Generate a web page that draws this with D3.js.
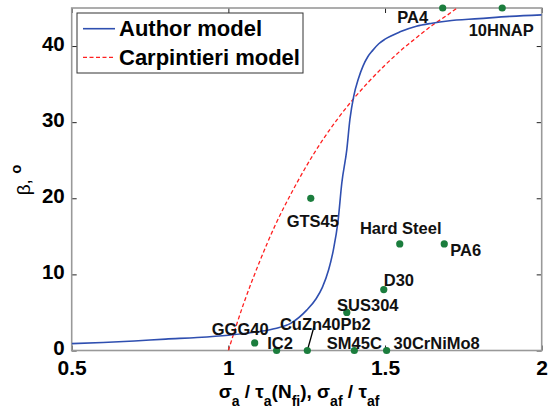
<!DOCTYPE html>
<html><head><meta charset="utf-8">
<script src="https://cdn.jsdelivr.net/npm/d3@7"></script>
<style>
html,body{margin:0;padding:0;background:#fff;}
svg{display:block;}
text{font-family:"Liberation Sans",Arial,Helvetica,sans-serif;}
</style></head>
<body>
<script>
// ---- data ----
const xTicks = [0.5, 1, 1.5, 2];
const xTickLabels = ["0.5", "1", "1.5", "2"];
const yTicks = [0, 10, 20, 30, 40];
const yTickLabels = ["0", "10", "20", "30", "40"];

const authorX = [0.5, 0.6, 0.7, 0.8, 0.9, 1.0, 1.1, 1.15, 1.2, 1.25, 1.28, 1.30, 1.32, 1.335, 1.35, 1.362, 1.378, 1.388, 1.40, 1.415, 1.43, 1.445, 1.46, 1.48, 1.50, 1.55, 1.60, 1.65, 1.70, 1.80, 1.90, 2.0];
const authorY = [0.9, 1.05, 1.25, 1.5, 1.7, 2.0, 2.5, 2.9, 3.6, 5.3, 6.8, 8.3, 10.6, 13.2, 17.0, 22.0, 26.4, 30.4, 33.4, 35.7, 37.4, 38.6, 39.4, 40.3, 40.9, 41.9, 42.6, 43.0, 43.3, 43.6, 43.9, 44.1];

const carpX = [1.0, 1.05, 1.1, 1.15, 1.2, 1.25, 1.3, 1.35, 1.4, 1.45, 1.5, 1.55, 1.6, 1.65, 1.7, 1.73];
const carpY = [0, 6.3, 11.7, 16.5, 20.6, 24.3, 27.6, 30.5, 33.1, 35.4, 37.5, 39.4, 41.1, 42.7, 44.1, 45.0];

const matNames = ["GTS45", "Hard Steel", "PA6", "D30", "SUS304", "GGG40", "CuZn40Pb2", "IC2", "SM45C", "30CrNiMo8", "PA4", "10HNAP"];
const matX = [1.263, 1.547, 1.689, 1.496, 1.378, 1.084, 1.252, 1.154, 1.402, 1.505, 1.684, 1.874];
const matY = [20, 14, 14, 8, 5, 1, 0, 0, 0, 0, 45, 45];

const legendNames = ["Author model", "Carpintieri model"];

// ---- layout (pixel offsets of labels relative to their points) ----
const labelLayout = {
  "GTS45": {dx: 2, dy: 29, a: "middle"},
  "Hard Steel": {dx: 1, dy: -10, a: "middle"},
  "PA6": {dx: 6, dy: 12.5, a: "start"},
  "D30": {dx: 0, dy: -3.5, a: "start"},
  "SUS304": {dx: 21, dy: -1.5, a: "middle"},
  "GGG40": {dx: -14.5, dy: -8, a: "middle"},
  "CuZn40Pb2": {dx: 18, dy: -21, a: "middle", lead: [7, -25]},
  "IC2": {dx: -9.4, dy: -1.6, a: "start"},
  "SM45C": {dx: 0, dy: -1.6, a: "middle"},
  "30CrNiMo8": {dx: 7, dy: -1.6, a: "start"},
  "PA4": {dx: -30, dy: 15, a: "middle"},
  "10HNAP": {dx: -1, dy: 28.3, a: "middle"}
};

const W = 550, H = 413;
const L = 71.7, R = 541.7, T = 8, B = 350.5;

const svg = d3.select("body").append("svg").attr("width", W).attr("height", H);

const x = d3.scaleLinear().domain([0.5, 2]).range([L, R]);
const y = d3.scaleLinear().domain([0, 45]).range([B, T]);

svg.append("defs").append("clipPath").attr("id", "clip")
  .append("rect").attr("x", L).attr("y", T).attr("width", R - L).attr("height", B - T);

// ticks (inward) on all four sides
function styleAxis(g, showLabels, fs) {
  g.select(".domain").remove();
  g.selectAll(".tick line").attr("stroke", "#222").attr("stroke-width", 1);
  if (!showLabels) g.selectAll(".tick text").remove();
  else g.selectAll(".tick text").attr("fill", "#000").attr("font-weight", "bold").attr("font-size", fs)
        .attr("font-family", '"Liberation Sans", Arial, sans-serif');
}
svg.append("g").attr("transform", `translate(0,${B})`)
  .call(d3.axisBottom(x).tickValues(xTicks).tickFormat((d, i) => xTickLabels[i]).tickSizeInner(-5).tickSizeOuter(0).tickPadding(10))
  .call(g => styleAxis(g, true, 21));
svg.append("g").attr("transform", `translate(0,${T})`)
  .call(d3.axisTop(x).tickValues(xTicks).tickSizeInner(-5).tickSizeOuter(0))
  .call(g => styleAxis(g, false));
svg.append("g").attr("transform", `translate(${L},0)`)
  .call(d3.axisLeft(y).tickValues(yTicks).tickFormat((d, i) => yTickLabels[i]).tickSizeInner(-5).tickSizeOuter(0).tickPadding(7))
  .call(g => styleAxis(g, true, 20.5))
  .call(g => g.selectAll(".tick text").attr("dy", "0.2em"));
svg.append("g").attr("transform", `translate(${R},0)`)
  .call(d3.axisRight(y).tickValues(yTicks).tickSizeInner(-5).tickSizeOuter(0))
  .call(g => styleAxis(g, false));

// frame
svg.append("rect").attr("x", L).attr("y", T).attr("width", R - L).attr("height", B - T)
  .attr("fill", "none").attr("stroke", "#999").attr("stroke-width", 1.6);

// curves
const line = d3.line().x(d => x(d[0])).y(d => y(d[1])).curve(d3.curveMonotoneX);
const authorData = authorX.map((v, i) => [v, authorY[i]]);
const carpData = carpX.map((v, i) => [v, carpY[i]]);
const plot = svg.append("g").attr("clip-path", "url(#clip)");
plot.append("path").datum(carpData).attr("d", line).attr("fill", "none")
  .attr("stroke", "#ff2020").attr("stroke-width", 1.3).attr("stroke-dasharray", "4,2.5");
plot.append("path").datum(authorData).attr("d", line).attr("fill", "none")
  .attr("stroke", "#2f4fb0").attr("stroke-width", 1.6);

// points, leader, labels
const mats = matNames.map((n, i) => ({name: n, x: matX[i], y: matY[i]}));
mats.forEach(m => {
  const lay = labelLayout[m.name];
  if (lay.lead) {
    svg.append("line").attr("x1", x(m.x)).attr("y1", y(m.y))
      .attr("x2", x(m.x) + lay.lead[0]).attr("y2", y(m.y) + lay.lead[1])
      .attr("stroke", "#000").attr("stroke-width", 1.3);
  }
});
svg.append("g").selectAll("circle").data(mats).join("circle")
  .attr("cx", d => x(d.x)).attr("cy", d => y(d.y)).attr("r", 3.6).attr("fill", "#1b7d3d");
svg.append("g").selectAll("text").data(mats).join("text")
  .attr("x", d => x(d.x) + labelLayout[d.name].dx)
  .attr("y", d => y(d.y) + labelLayout[d.name].dy)
  .attr("text-anchor", d => labelLayout[d.name].a)
  .attr("font-size", 16.5).attr("font-weight", "bold").attr("fill", "#111")
  .text(d => d.name);

// legend
const lg = svg.append("g");
lg.append("rect").attr("x", 77).attr("y", 13).attr("width", 226).attr("height", 60)
  .attr("fill", "#fff").attr("stroke", "#333").attr("stroke-width", 1);
const legStyles = [{c: "#2f4fb0", dash: null, w: 1.6}, {c: "#ff2020", dash: "4,2.5", w: 1.3}];
legendNames.forEach((n, i) => {
  const yy = 28.7 + i * 28.6;
  lg.append("line").attr("x1", 83).attr("x2", 115).attr("y1", yy).attr("y2", yy)
    .attr("stroke", legStyles[i].c).attr("stroke-width", legStyles[i].w)
    .attr("stroke-dasharray", legStyles[i].dash);
  lg.append("text").attr("x", 119).attr("y", yy + 7.5).attr("font-size", 22).attr("font-weight", "bold")
    .attr("fill", "#000").text(n);
});

// x label
const xl = svg.append("text").attr("x", 299).attr("y", 398).attr("text-anchor", "middle")
  .attr("font-size", 19).attr("font-weight", "bold").attr("fill", "#000");
const parts = [["σ", 0], ["a", 1], [" / τ", 0], ["a", 1], ["(N", 0], ["fi", 1], ["), σ", 0], ["af", 1], [" / τ", 0], ["af", 1]];
let prevSub = false;
parts.forEach(([t, sub]) => {
  const ts = xl.append("tspan").text(t);
  if (sub && !prevSub) ts.attr("dy", 8).attr("font-size", 14);
  else if (!sub && prevSub) ts.attr("dy", -8);
  prevSub = !!sub;
});

// y label
const yl = svg.append("text").attr("transform", "translate(30,180) rotate(-90)")
  .attr("text-anchor", "middle").attr("font-size", 19).attr("fill", "#000");
yl.append("tspan").text("β, ");
yl.append("tspan").attr("dy", -9).attr("font-size", 15).attr("font-weight", "bold").text("o");
</script>
</body></html>
